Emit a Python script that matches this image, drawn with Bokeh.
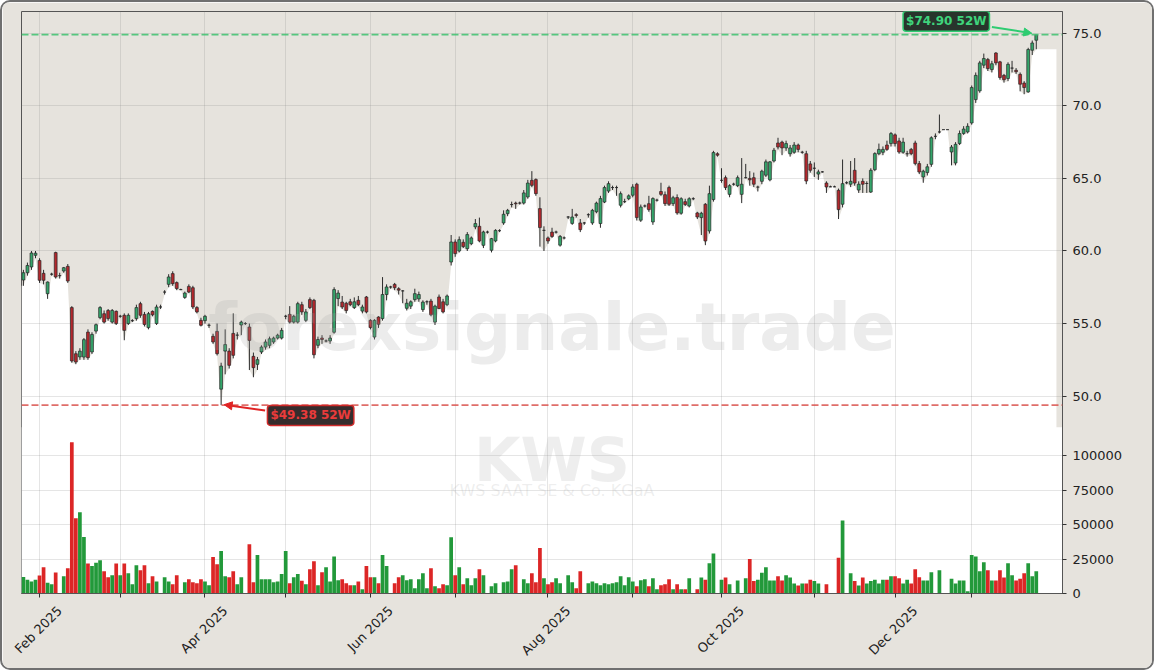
import math
import pandas as pd
from bokeh.plotting import figure
from bokeh.models import (ColumnDataSource, Range1d, FixedTicker, Span, Label, LinearAxis,
                          Arrow, NormalHead, BoxAnnotation)
from bokeh.embed import file_html
from bokeh.resources import INLINE

# ---------------- data ----------------
start_date = "2025-01-28"
end_date = "2026-01-26"
holidays = ["2025-04-18", "2025-04-21", "2025-05-01", "2025-12-24", "2025-12-25",
            "2025-12-26", "2025-12-31", "2026-01-01"]

opens = [
    58.0, 58.5, 58.9, 59.7, 59.35, 58.46, 57.06, 58.4, 59.89, 58.3, 58.62, 58.94,
    56.1, 52.92, 52.7, 52.69, 54.41, 53.04, 54.48, 55.41, 55.68, 55.9, 55.1, 55.84,
    55.5, 55.57, 55.0, 55.2, 55.34, 56.37, 55.63, 54.72, 55.84, 55.0, 56.14, 57.17,
    57.7, 58.44, 57.82, 57.34, 56.8, 57.56, 57.47, 56.1, 55.22, 55.2, 54.88, 54.12,
    54.46, 50.48, 53.1, 53.1, 54.32, 54.2, 54.9, 55.0, 54.76, 52.74, 52.19, 53.04,
    53.38, 53.5, 53.73, 54.0, 54.0, 55.5, 55.63, 55.1, 55.1, 56.3, 55.22, 56.65,
    56.6, 53.5, 54.0, 53.8, 53.8, 54.4, 56.72, 56.48, 56.4, 56.5, 56.1, 56.6,
    55.86, 56.83, 55.22, 54.07, 55.45, 55.34, 57.0, 57.52, 57.7, 57.4, 57.25, 56.05,
    56.2, 56.65, 56.7, 55.96, 56.5, 56.55, 55.1, 56.83, 56.5, 56.3, 59.24, 60.62,
    60.0, 60.6, 60.16, 60.5, 61.66, 61.7, 60.39, 61.3, 60.05, 60.69, 61.4, 61.93,
    62.57, 63.2, 63.3, 63.3, 63.3, 63.72, 64.87, 64.92, 62.92, 61.42, 60.9, 61.3,
    61.3, 60.4, 60.9, 62.34, 61.9, 62.5, 61.93, 61.93, 62.5, 61.93, 62.7, 61.89,
    63.37, 64.13, 64.37, 64.37, 63.15, 63.4, 63.6, 63.84, 64.6, 62.12, 63.1, 63.26,
    62.0, 63.5, 64.1, 63.88, 64.37, 63.26, 63.68, 62.6, 63.4, 63.1, 63.6, 62.62,
    62.3, 63.22, 61.38, 63.54, 66.7, 64.87, 65.05, 63.9, 64.6, 64.5, 63.9, 65.05,
    65.0, 65.05, 64.4, 64.8, 65.22, 64.9, 66.2, 67.44, 67.5, 67.1, 66.7, 66.8,
    67.3, 66.8, 66.7, 66.0, 65.7, 65.3, 65.45, 64.68, 64.42, 64.42, 64.18, 63.22,
    64.7, 64.6, 65.56, 64.2, 64.8, 64.65, 64.06, 65.6, 66.7, 66.8, 67.3, 67.4,
    68.0, 67.58, 66.8, 66.7, 67.0, 67.44, 66.02, 65.1, 65.4, 65.97, 67.9, 68.2,
    68.36, 68.36, 66.82, 66.06, 67.4, 68.1, 68.2, 68.82, 70.43, 71.03, 72.8, 73.19,
    72.5, 73.64, 73.03, 72.1, 71.88, 72.6, 72.45, 72.17, 71.57, 70.96, 73.83, 74.52,
]
highs = [
    58.7, 59.2, 60.0, 60.0, 59.5, 58.7, 57.9, 58.5, 59.95, 58.5, 58.9, 59.1,
    56.2, 53.1, 53.3, 54.0, 54.6, 54.4, 55.0, 56.2, 55.9, 56.0, 56.0, 55.9,
    55.6, 55.7, 55.7, 55.3, 56.3, 56.5, 55.8, 55.8, 55.9, 56.3, 56.3, 57.3,
    58.4, 58.6, 57.9, 57.4, 57.2, 57.7, 57.6, 56.2, 55.4, 55.6, 55.0, 54.3,
    55.0, 52.3, 54.6, 53.3, 55.7, 54.4, 55.2, 55.1, 55.0, 53.0, 52.7, 53.5,
    53.9, 54.1, 54.1, 54.3, 54.7, 55.6, 56.2, 55.6, 56.5, 56.5, 56.0, 56.8,
    56.7, 54.1, 54.2, 53.9, 54.2, 57.5, 57.3, 56.9, 56.5, 56.7, 56.8, 56.9,
    56.3, 56.9, 55.3, 55.3, 55.5, 58.2, 57.7, 57.6, 57.8, 57.5, 57.3, 56.7,
    56.6, 57.4, 57.2, 56.6, 56.6, 56.7, 56.3, 57.0, 56.7, 57.0, 61.1, 60.8,
    61.0, 60.8, 61.3, 61.0, 62.2, 62.3, 61.4, 61.4, 60.9, 61.5, 61.5, 62.8,
    62.9, 63.4, 63.4, 63.4, 64.2, 64.9, 65.5, 65.0, 63.7, 61.7, 61.0, 61.6,
    61.4, 61.1, 61.0, 62.4, 62.9, 62.6, 62.2, 62.0, 62.6, 62.9, 63.4, 63.8,
    64.5, 64.8, 64.5, 64.5, 64.1, 63.6, 63.9, 64.6, 64.7, 63.2, 63.2, 63.8,
    63.7, 63.6, 64.7, 64.1, 64.5, 63.8, 63.9, 63.7, 63.6, 63.7, 63.7, 62.7,
    62.7, 63.3, 64.5, 66.9, 66.8, 65.7, 65.2, 64.6, 64.7, 65.2, 66.4, 66.0,
    65.5, 65.4, 64.5, 65.6, 66.3, 66.2, 67.1, 67.8, 67.6, 67.6, 67.3, 67.5,
    67.4, 66.9, 66.9, 66.2, 66.1, 65.6, 65.5, 64.8, 64.5, 64.5, 64.3, 66.3,
    64.8, 66.2, 66.4, 64.8, 65.0, 64.8, 65.7, 66.8, 67.4, 67.2, 67.6, 68.2,
    68.1, 67.8, 67.8, 66.9, 67.1, 67.6, 66.2, 65.6, 66.0, 67.9, 68.1, 69.4,
    68.36, 68.36, 67.3, 67.5, 68.3, 68.6, 68.8, 71.4, 72.3, 73.1, 73.6, 73.3,
    73.1, 73.7, 73.1, 72.2, 73.0, 73.1, 72.6, 72.3, 71.7, 74.0, 74.5, 74.9,
]
lows = [
    57.6, 58.3, 58.7, 59.5, 57.8, 57.7, 56.7, 58.3, 58.1, 58.1, 58.5, 57.8,
    52.3, 52.2, 52.5, 52.5, 52.5, 52.9, 54.3, 55.3, 55.0, 55.2, 55.0, 54.9,
    55.4, 53.85, 54.9, 55.1, 55.2, 55.4, 54.8, 54.6, 55.5, 54.9, 56.0, 57.0,
    57.5, 57.6, 57.3, 57.3, 56.7, 57.1, 56.0, 55.7, 54.8, 55.0, 54.7, 53.6,
    52.8, 49.38, 51.5, 51.9, 52.6, 53.9, 54.2, 54.9, 51.8, 51.3, 51.8, 52.9,
    53.2, 53.3, 53.6, 53.9, 53.9, 55.3, 55.0, 55.0, 55.0, 55.6, 55.1, 56.0,
    52.6, 53.3, 53.6, 53.7, 53.6, 54.3, 56.2, 56.0, 55.7, 56.2, 56.0, 56.2,
    55.7, 55.7, 54.6, 53.9, 54.7, 55.2, 56.6, 57.4, 57.3, 57.0, 56.4, 55.9,
    56.0, 56.5, 56.5, 55.8, 56.3, 55.5, 54.9, 56.0, 55.7, 56.2, 59.0, 59.6,
    59.9, 60.2, 60.0, 60.4, 61.5, 60.6, 60.2, 61.2, 59.9, 60.6, 61.3, 61.8,
    62.4, 63.0, 62.9, 63.2, 63.2, 63.6, 64.4, 63.8, 60.3, 60.0, 60.5, 60.9,
    61.2, 60.3, 60.8, 62.2, 61.8, 62.3, 61.3, 61.8, 62.3, 61.8, 62.6, 61.6,
    63.3, 64.0, 64.2, 63.8, 63.0, 63.3, 63.5, 63.7, 62.1, 62.0, 63.0, 62.7,
    61.8, 63.4, 63.8, 63.1, 63.1, 63.1, 62.5, 62.5, 63.1, 63.0, 63.5, 62.2,
    61.1, 60.4, 61.2, 63.4, 66.5, 64.7, 64.2, 63.7, 64.5, 64.4, 63.3, 65.0,
    64.5, 64.4, 64.1, 64.6, 65.1, 64.8, 66.1, 67.0, 66.6, 66.9, 66.5, 66.7,
    66.8, 66.7, 64.6, 65.4, 65.1, 64.9, 65.4, 64.0, 64.4, 64.4, 62.2, 63.0,
    64.6, 64.4, 64.5, 64.0, 64.0, 64.0, 64.0, 65.5, 66.6, 66.6, 66.9, 67.2,
    67.2, 66.7, 66.7, 66.5, 66.6, 65.9, 65.3, 64.7, 65.2, 65.8, 67.7, 68.1,
    68.36, 68.36, 65.9, 65.9, 67.3, 68.0, 68.1, 68.7, 70.2, 70.9, 72.6, 72.4,
    72.3, 72.8, 71.8, 71.6, 71.7, 72.3, 72.2, 71.0, 70.8, 70.9, 73.5, 73.9,
]
closes = [
    58.5, 59.0, 59.86, 59.85, 57.98, 57.98, 57.86, 58.4, 58.21, 58.3, 58.85, 57.93,
    52.42, 52.35, 53.1, 53.89, 52.65, 54.25, 54.92, 56.1, 55.1, 55.34, 55.9, 55.0,
    55.5, 54.53, 55.57, 55.2, 56.1, 55.57, 54.94, 55.68, 55.6, 56.14, 56.14, 57.17,
    58.21, 57.75, 57.41, 57.34, 57.1, 57.17, 56.14, 55.8, 54.88, 55.5, 54.88, 53.73,
    52.92, 52.07, 53.55, 52.12, 52.81, 54.2, 55.1, 55.0, 53.84, 51.96, 52.51, 53.38,
    53.73, 53.95, 54.0, 54.2, 54.53, 55.5, 55.1, 55.5, 56.37, 55.8, 55.8, 56.1,
    52.85, 53.9, 53.9, 53.8, 54.0, 57.34, 57.1, 56.14, 55.9, 56.3, 56.5, 56.3,
    56.14, 55.8, 54.72, 55.22, 54.95, 57.0, 57.52, 57.52, 57.47, 57.3, 57.25, 56.4,
    56.5, 57.06, 57.0, 56.48, 56.5, 55.6, 56.2, 56.03, 55.8, 56.9, 60.62, 59.82,
    60.78, 60.3, 61.13, 60.9, 61.89, 60.69, 61.31, 61.3, 60.85, 61.42, 61.4, 62.53,
    62.8, 63.2, 63.25, 63.3, 64.0, 64.68, 64.52, 63.95, 61.61, 61.42, 60.69, 61.0,
    61.3, 61.0, 60.9, 62.34, 62.34, 62.45, 61.47, 61.93, 62.5, 62.8, 63.3, 63.61,
    64.37, 64.64, 64.37, 64.37, 63.95, 63.4, 63.8, 64.41, 62.3, 63.03, 63.1, 62.85,
    63.61, 63.5, 63.9, 63.26, 63.22, 63.67, 62.62, 63.6, 63.2, 63.6, 63.6, 62.34,
    62.6, 60.69, 63.95, 66.78, 66.6, 64.87, 64.37, 64.5, 64.6, 65.05, 64.6, 65.05,
    64.9, 64.6, 64.4, 65.5, 66.14, 66.14, 66.94, 67.16, 67.1, 67.4, 67.1, 67.3,
    67.0, 66.8, 64.82, 65.56, 65.7, 65.45, 65.45, 64.41, 64.42, 64.42, 62.85, 64.64,
    64.7, 64.8, 64.68, 64.6, 64.6, 64.65, 65.56, 66.71, 67.0, 67.0, 67.0, 68.09,
    67.4, 66.82, 67.5, 66.7, 66.7, 66.02, 65.44, 65.5, 65.8, 67.8, 67.9, 68.2,
    68.36, 68.36, 67.16, 67.35, 68.09, 68.4, 68.59, 71.26, 72.1, 72.96, 73.26, 72.57,
    72.9, 72.96, 71.95, 71.8, 72.86, 72.6, 72.35, 71.49, 71.26, 73.88, 74.33, 74.9,
]
volumes = [
    12000, 10000, 8800, 10000, 13000, 19100, 7900, 6700, 15200, 0, 12600, 18400,
    110000, 54700, 59100, 41000, 21800, 19900, 22300, 24200, 16200, 11800, 13300, 21800,
    13300, 21800, 14800, 6800, 20600, 16900, 20600, 7500, 12600, 8800, 0, 11800,
    8800, 6700, 13300, 0, 8100, 10300, 8100, 7500, 10300, 8800, 6000, 26600,
    21300, 30800, 12600, 11800, 16200, 6700, 11800, 0, 35800, 8100, 27900, 10300,
    10300, 10300, 8100, 8800, 14100, 30800, 7500, 11800, 14100, 9200, 6800, 17700,
    23500, 6000, 15500, 19100, 8800, 26900, 9700, 10300, 7500, 6000, 6000, 8800,
    3100, 19900, 11800, 11800, 7500, 27900, 19900, 0, 7500, 11800, 13300, 9700,
    10300, 3800, 10300, 14800, 3800, 18400, 5300, 3800, 6800, 6000, 40900, 13300,
    19100, 6800, 11100, 6000, 11100, 17700, 13300, 0, 5300, 7500, 0, 8100,
    8800, 17700, 20600, 0, 10300, 7500, 14800, 8100, 33000, 11100, 6800, 8100,
    11100, 7500, 0, 13300, 8100, 3800, 16200, 0, 7500, 8800, 7500, 6000,
    7500, 6800, 7500, 8100, 12600, 6000, 11800, 8800, 5300, 9700, 10300, 5300,
    11100, 3100, 6000, 6800, 10300, 3100, 6800, 3100, 3100, 11100, 0, 3000,
    11600, 10000, 22000, 29000, 0, 10000, 11600, 6800, 0, 9500, 0, 11000,
    25000, 9000, 10000, 15000, 19000, 9500, 9500, 12600, 9500, 13300, 11600, 7300,
    5800, 7300, 7300, 10000, 9000, 7300, 0, 6800, 0, 0, 25900, 53000,
    0, 14800, 9000, 5800, 11600, 7300, 9000, 10000, 7300, 10000, 10000, 12600,
    12600, 11100, 7300, 10000, 7300, 17700, 11800, 9500, 9500, 15500, 0, 16900,
    0, 0, 10800, 7300, 9500, 9500, 1700, 27900, 26900, 16200, 22700, 16900,
    9500, 9500, 16900, 11600, 22000, 13300, 9500, 10800, 14800, 22000, 12600, 16200,
]

price_ticks = [50.0, 55.0, 60.0, 65.0, 70.0, 75.0]
volume_ticks = [0, 25000, 50000, 75000, 100000]
company = "KWS SAAT SE & Co. KGaA"
symbol = "KWS"
watermark = "forexsignale.trade"

# ---------------- derived ----------------
dates = [d for d in pd.bdate_range(start_date, end_date) if d.strftime("%Y-%m-%d") not in holidays]
n = len(closes)
dates = dates[:n]
idx = list(range(n))

month_idx, month_lbl = [], []
for i in range(1, n):
    if dates[i].month != dates[i - 1].month:
        month_idx.append(i)
        month_lbl.append(dates[i].strftime("%b %Y") if dates[i].month % 2 == 0 else "")

BEIGE = "#e6e3dd"
x_lo, x_hi = -0.47, 257.5
p_lo, p_hi = 36.40, 76.50
v_hi = 423000.0

p = figure(frame_width=1041, frame_height=582, x_range=Range1d(x_lo, x_hi),
           y_range=Range1d(p_lo, p_hi), y_axis_location="right", title=None,
           output_backend="svg", toolbar_location=None,
           min_border_left=19, min_border_top=9, min_border_right=90, min_border_bottom=75)
p.extra_y_ranges = {"vol": Range1d(0, v_hi)}
p.background_fill_color = BEIGE
p.border_fill_color = BEIGE
p.outline_line_color = "#555555"
p.outline_line_width = 1
p.styles = {"border": "2px solid #707070", "border-radius": "10px", "overflow": "hidden"}

# white area below price (lows) + white volume panel
fill_x = [x_lo] + idx + [idx[-1] + 5]
fill_y = [lows[0]] + lows + [lows[-1]]
p.varea(x=fill_x, y1=p_lo, y2=fill_y, fill_color="white", level="image")
vol_panel_top = 47.86
p.add_layout(BoxAnnotation(top=vol_panel_top, fill_color="white", fill_alpha=1.0,
                           line_color=None, level="image"))

# grids
for g in (p.xgrid[0], p.ygrid[0]):
    g.grid_line_color = "#888888"
    g.grid_line_alpha = 0.22
    g.grid_line_width = 1

# watermarks
p.add_layout(Label(x=(x_lo + x_hi) / 2, y=(p_lo + p_hi) / 2, x_offset=10, y_offset=-25,
                   text=watermark, text_align="center", text_baseline="middle",
                   text_font="DejaVu Sans", text_font_style="bold", text_font_size="66px",
                   text_color="#a8a8a8", text_alpha=0.22))
p.add_layout(Label(x=(x_lo + x_hi) / 2, y=(p_lo + p_hi) / 2, x_offset=10, y_offset=-157,
                   text=symbol, text_align="center", text_baseline="middle",
                   text_font="DejaVu Sans", text_font_style="bold", text_font_size="60px",
                   text_color="#a8a8a8", text_alpha=0.2))
p.add_layout(Label(x=(x_lo + x_hi) / 2, y=(p_lo + p_hi) / 2, x_offset=10, y_offset=-188,
                   text=company, text_align="center", text_baseline="middle",
                   text_font="DejaVu Sans", text_font_size="16px",
                   text_color="#a8a8a8", text_alpha=0.2))

# volume bars
src = ColumnDataSource(dict(
    x=idx, o=opens, h=highs, l=lows, c=closes, vol=volumes,
    top=[max(a, b) for a, b in zip(opens, closes)],
    bot=[min(a, b) for a, b in zip(opens, closes)],
    color=["#34a56a" if c >= o else "#b3282d" for o, c in zip(opens, closes)],
    vcolor=["#22993a" if c >= o else "#dc2626" for o, c in zip(opens, closes)],
))
p.vbar(x="x", width=0.92, top="vol", bottom=0, fill_color="vcolor", line_color=None,
       y_range_name="vol", source=src)

# candles
p.segment(x0="x", y0="h", x1="x", y1="l", line_color="#2b2b2b", line_width=1, source=src)
p.vbar(x="x", width=0.7, top="top", bottom="bot", fill_color="color",
       line_color="#262626", line_width=0.7, source=src)

# 52W high / low
hi_val = max(highs)
hi_i = highs.index(hi_val)
lo_val = min(lows)
lo_i = lows.index(lo_val)
p.add_layout(Span(location=hi_val, dimension="width", line_color="#46c374",
                  line_dash="7 3", line_width=1.8, line_alpha=0.9))
p.add_layout(Span(location=lo_val, dimension="width", line_color="#d9534f",
                  line_dash="7 3", line_width=1.8, line_alpha=0.85))

p.add_layout(Arrow(end=NormalHead(size=8, fill_color="#2ecc71", line_color="#2ecc71"),
                   x_start=hi_i - 11, y_start=hi_val + 0.53, x_end=hi_i - 1.1, y_end=hi_val + 0.1,
                   line_color="#2ecc71", line_width=2))
p.add_layout(Arrow(end=NormalHead(size=8, fill_color="#e02424", line_color="#e02424"),
                   x_start=lo_i + 10.9, y_start=lo_val - 0.37, x_end=lo_i + 0.75, y_end=lo_val + 0.03,
                   line_color="#e02424", line_width=2))

p.add_layout(Label(x=hi_i, y=hi_val, x_offset=-90, y_offset=13.5, text=f"${hi_val:.2f} 52W",
                   text_align="center", text_baseline="middle", text_font="DejaVu Sans",
                   text_font_style="bold", text_font_size="12px", text_color="#3fd47c",
                   background_fill_color="#1e2a22", background_fill_alpha=0.95,
                   border_line_color="#2ecc71", border_line_width=1.5, padding=3, border_radius=3))
p.add_layout(Label(x=lo_i, y=lo_val, x_offset=89.5, y_offset=-10.3, text=f"${lo_val:.2f} 52W",
                   text_align="center", text_baseline="middle", text_font="DejaVu Sans",
                   text_font_style="bold", text_font_size="12px", text_color="#ea3b3b",
                   background_fill_color="#2a2222", background_fill_alpha=0.95,
                   border_line_color="#d02a2a", border_line_width=1.5, padding=3, border_radius=3))

# y axis (price + volume on one right axis)
vol_pos = [round(p_lo + v * (p_hi - p_lo) / v_hi, 6) for v in volume_ticks]
ay = p.yaxis[0]
ay.ticker = FixedTicker(ticks=price_ticks + vol_pos)
overrides = {t: f"{t:.1f}" for t in price_ticks}
overrides.update({vp: str(v) for vp, v in zip(vol_pos, volume_ticks)})
ay.major_label_overrides = overrides
ay.minor_tick_line_color = None
ay.major_tick_in = 0
ay.major_tick_out = 4
ay.major_tick_line_color = "#333333"
ay.axis_line_color = "#555555"
ay.major_label_text_font = "DejaVu Sans"
ay.major_label_text_font_size = "13px"
ay.major_label_text_color = "#222222"
ay.major_label_standoff = 6

# x axis: tick marks at month starts (labels blank) ...
ax = p.xaxis[0]
ax.ticker = FixedTicker(ticks=month_idx)
ax.major_label_overrides = {i: "" for i in month_idx}
ax.major_label_text_font_size = "1px"
ax.major_label_standoff = 0
ax.minor_tick_line_color = None
ax.major_tick_in = 0
ax.major_tick_out = 4
ax.major_tick_line_color = "#333333"
ax.axis_line_color = "#555555"

# ... and a label-only axis so that the rotated labels sit centred under their ticks
label_shift = 5
lab_pos = [i + label_shift for i, s in zip(month_idx, month_lbl) if s]
lab_txt = [s for s in month_lbl if s]
lax = LinearAxis(ticker=FixedTicker(ticks=lab_pos),
                 major_label_overrides={pp: s for pp, s in zip(lab_pos, lab_txt)},
                 major_label_orientation=math.pi / 4, major_tick_in=0, major_tick_out=0,
                 minor_tick_line_color=None, axis_line_color=None, major_tick_line_color=None,
                 major_label_standoff=11, major_label_text_font="DejaVu Sans",
                 major_label_text_font_size="13px", major_label_text_color="#222222")
p.add_layout(lax, "below")

open("out.html", "w").write(file_html(p, INLINE))
